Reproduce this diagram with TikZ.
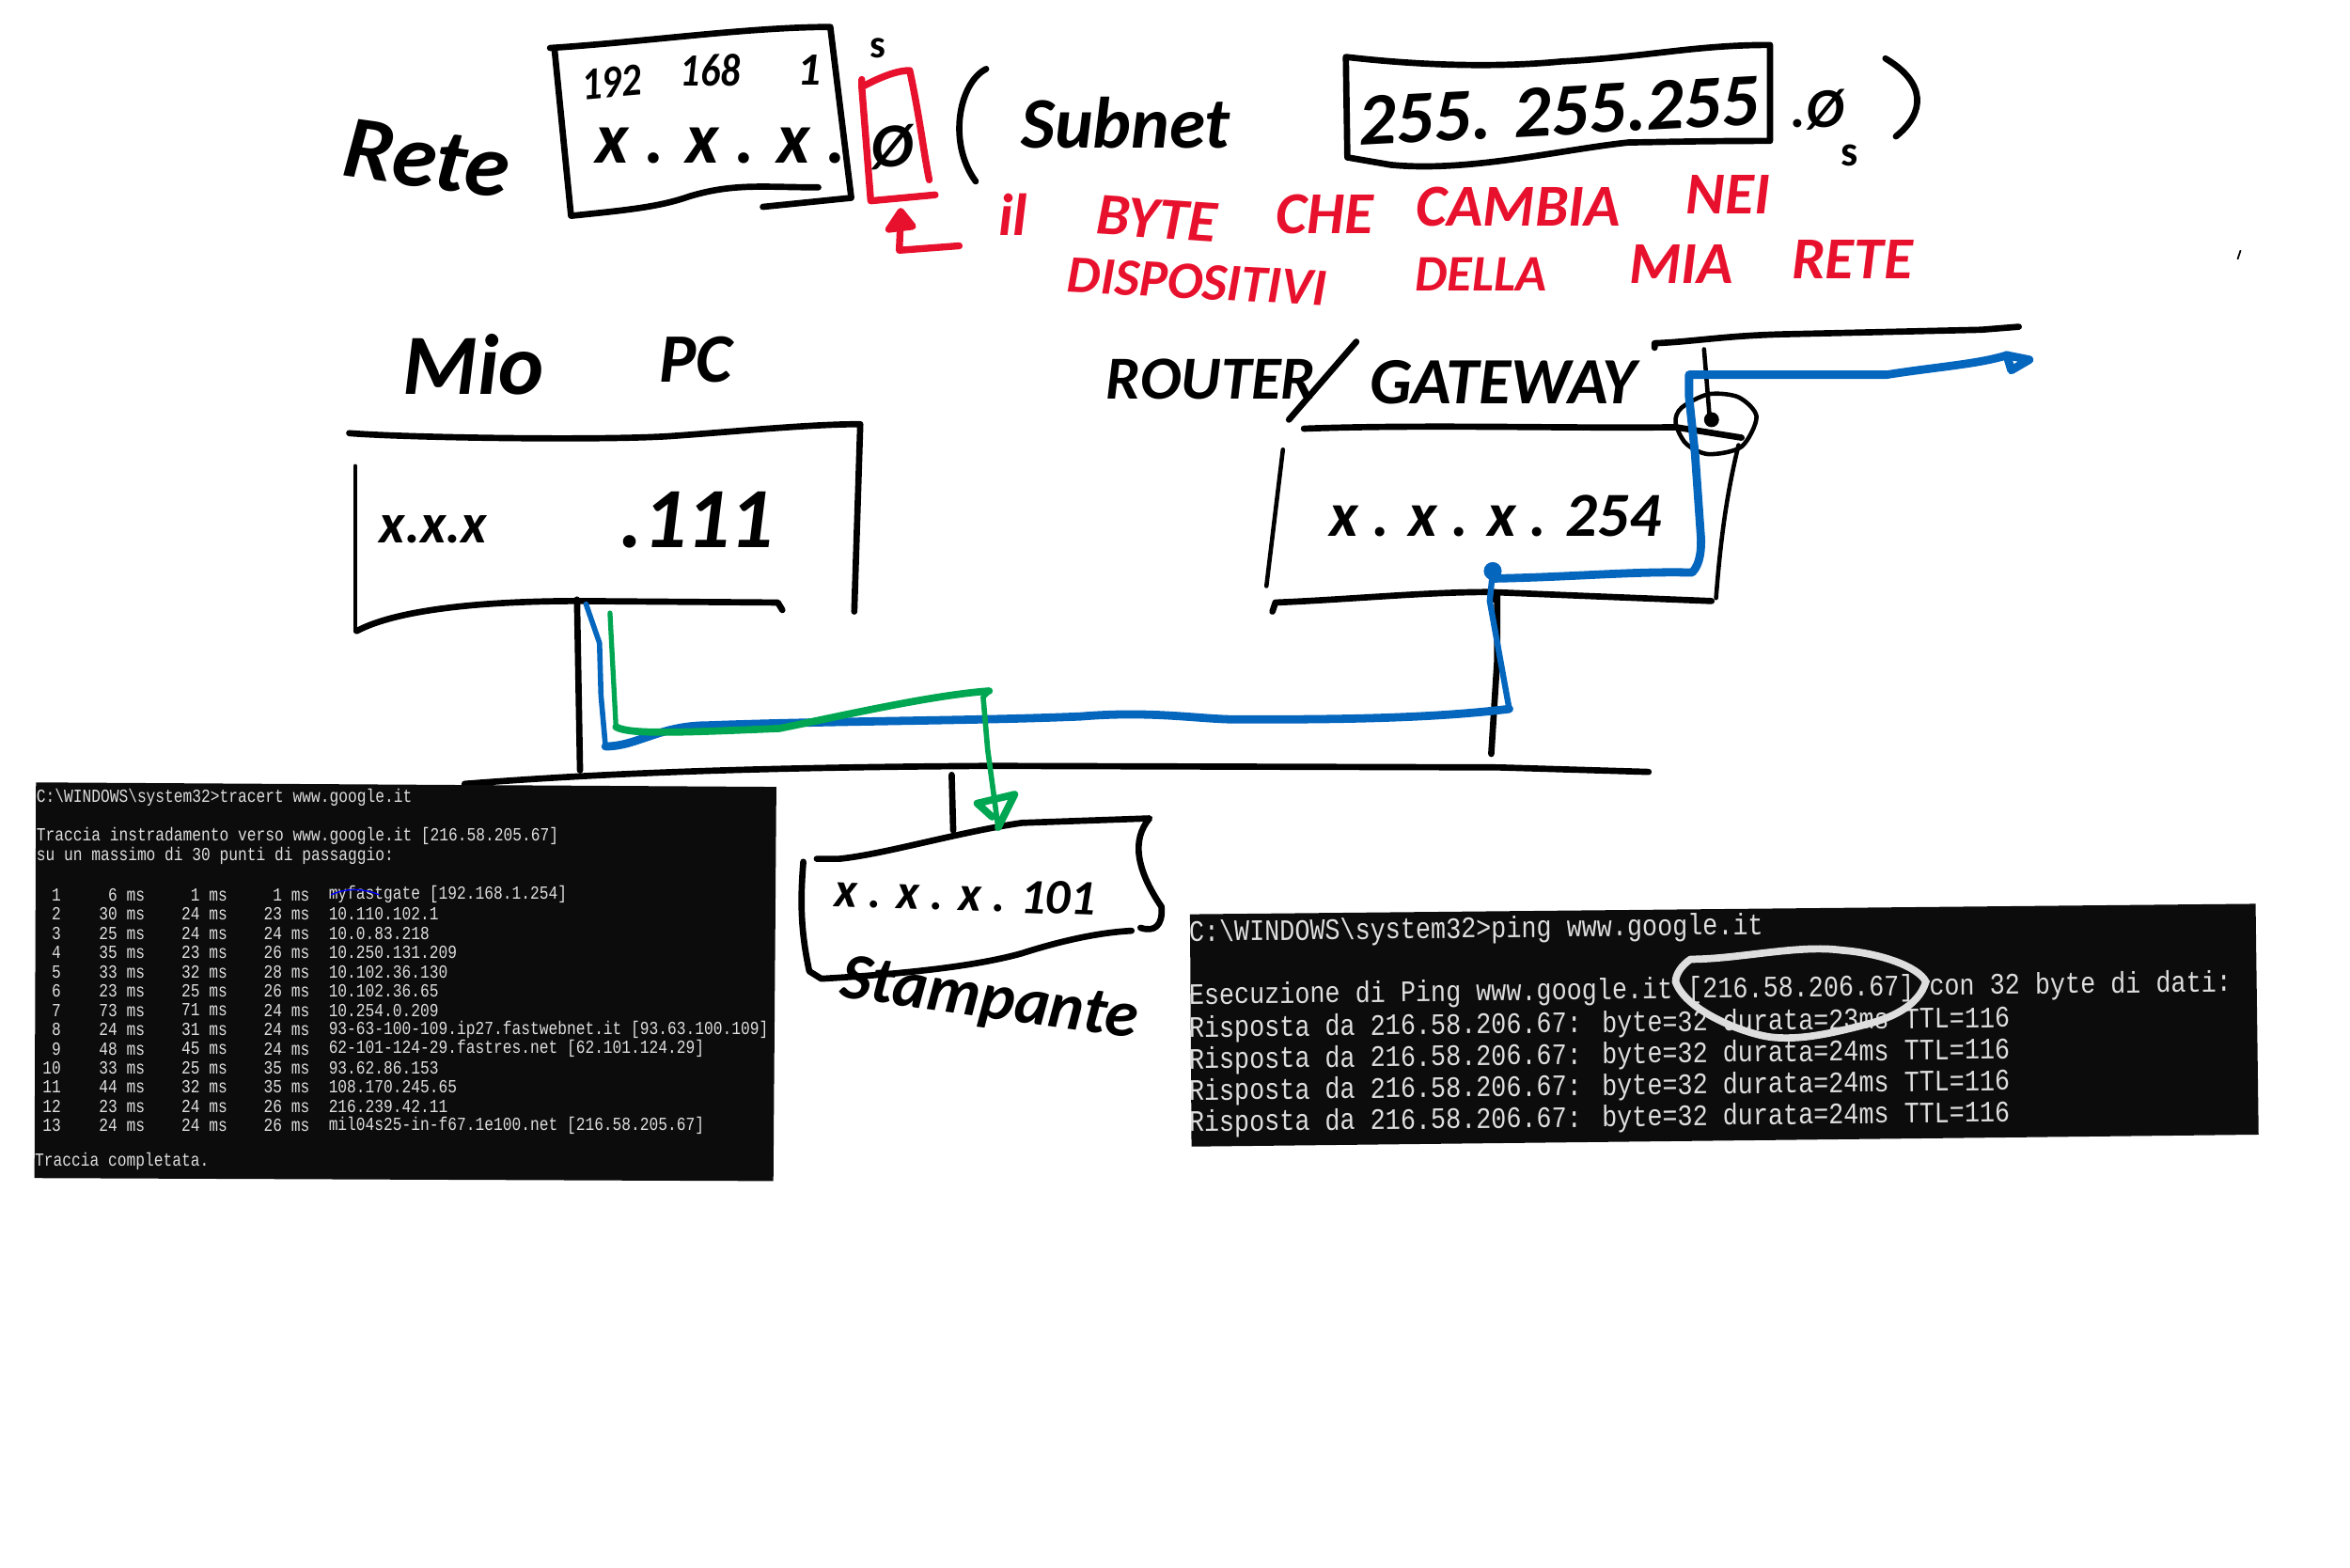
\documentclass[tikz,border=0pt]{standalone}
\usepackage{fontspec}
\setmainfont{Carlito}
\newfontfamily\termfont{Liberation Mono}
\definecolor{inkred}{HTML}{E8112D}
\definecolor{inkblue}{HTML}{0566BE}
\definecolor{inkgreen}{HTML}{00A651}
\definecolor{termbg}{HTML}{0C0C0C}
\definecolor{termtext}{HTML}{DEDEDE}
\newcommand{\handsize}[1]{\itshape\bfseries\fontsize{#1}{#1}\selectfont}
\tikzset{
  ink/.style={line width=1.9pt,line cap=round,line join=round},
  thinink/.style={line width=1.3pt,line cap=round,line join=round},
  redink/.style={line width=2.1pt,line cap=round,line join=round,color=inkred},
  blueink/.style={line width=2.5pt,line cap=round,line join=round,color=inkblue},
  greenink/.style={line width=2.2pt,line cap=round,line join=round,color=inkgreen},
  hand/.style={inner sep=0pt},
  redtext/.style={font=\handsize{18},inner sep=0pt,text=inkred},
  termsmall/.style={font=\termfont\fontsize{5.6}{6}\selectfont,inner sep=0pt,text=termtext,xscale=.825},
  termbig/.style={font=\termfont\fontsize{9}{10}\selectfont,inner sep=0pt,text=termtext,xscale=.847,rotate=.6,anchor=west}
}
\begin{document}
\begin{tikzpicture}[x=0.015944cm,y=-0.015944cm]
\useasboundingbox (0,0) rectangle (1568,1045.6);

\node[hand,font=\handsize{27},rotate=-8] (rete) at (285,106) {Rete};
\draw[ink] (367,32) .. controls (430,28) and (500,18) .. (554,18) -- (568,132) -- (509,138);
\draw[ink] (370,33) -- (381,144) .. controls (420,140) and (440,138) .. (460,131) .. controls (490,122) and (510,125) .. (546,125);
\node[hand,font=\handsize{14},rotate=5,xscale=.85] (n192) at (408,55) {192};
\node[hand,font=\handsize{14},xscale=.85] (n168) at (474,47) {168};
\node[hand,font=\handsize{14}] (n1) at (540,47) {1};
\node[hand,font=\handsize{22}] (netx) at (481,97) {x . x . x .};

\draw[redink] (575,53) -- (575,58) .. controls (590,50) and (600,47) .. (607,47) .. controls (614,80) and (616,100) .. (620,120);
\draw[redink] (575,58) -- (581,134) -- (624,130);
\node[hand,font=\handsize{19}] (hostzero) at (595,98) {Ø};
\node[font=\fontsize{12}{12}\selectfont\bfseries,inner sep=0pt] (sone) at (586,32) {s};
\draw[redink] (640,164) -- (600,167) -- (601,145);
\draw[redink,fill=inkred] (601,141) -- (593,153) -- (609,151) -- cycle;

\draw[ink] (658,46) .. controls (640,55) and (632,95) .. (651,121);
\node[hand,font=\handsize{22}] (subnet) at (751,82) {Subnet};
\draw[ink] (898,38) .. controls (950,44) and (1000,45) .. (1042,41) .. controls (1100,38) and (1130,30) .. (1181,30) -- (1181,94) .. controls (1130,94) and (1100,95) .. (1087,95) .. controls (1040,100) and (980,115) .. (928,110) -- (899,105) -- cycle;
\node[hand,font=\handsize{22.5},rotate=3] (mask) at (1040,74) {255. 255.255};
\node[hand,font=\handsize{17}] (maskzero) at (1213,73) {.Ø};
\node[font=\fontsize{13}{13}\selectfont\bfseries,inner sep=0pt] (stwo) at (1234,104) {s};
\draw[ink] (1258,39) .. controls (1285,55) and (1285,75) .. (1265,91);

\node[redtext] (il) at (676,143) {il};
\node[redtext,rotate=-4] (byte) at (772,146) {BYTE};
\node[redtext] (che) at (884,143) {CHE};
\node[redtext] (cambia) at (1013,138) {CAMBIA};
\node[redtext] (nei) at (1153,130) {NEI};
\node[redtext,font=\handsize{16},rotate=-3] (dispositivi) at (799,188) {DISPOSITIVI};
\node[redtext,font=\handsize{15.5}] (della) at (988,183) {DELLA};
\node[redtext] (mia) at (1122,176) {MIA};
\node[redtext] (rete2) at (1236,173) {RETE};

\node[hand,font=\handsize{26}] (mio) at (316,243) {Mio};
\node[hand,font=\handsize{21}] (pc) at (464,240) {PC};
\draw[ink] (233,289) .. controls (270,292) and (400,294) .. (447,291) .. controls (490,288) and (540,283) .. (574,283) -- (570,408);
\draw[thinink] (237,311) -- (237,421);
\draw[ink] (238,421) .. controls (270,404) and (340,401) .. (386,401) -- (519,402) -- (522,407);
\node[hand,font=\handsize{17}] (pcnet) at (289,353) {x.x.x};
\node[hand,font=\handsize{26}] (pchost) at (465,347) {.111};

\node[hand,font=\handsize{18.5}] (router) at (808,253) {ROUTER};
\draw[ink] (905,228) -- (860,280);
\node[hand,font=\handsize{20}] (gateway) at (1003,255) {GATEWAY};
\draw[ink] (870,286) .. controls (950,283) and (1050,286) .. (1118,285) -- (1162,292);
\draw[thinink] (856,300) -- (845,391);
\draw[ink] (849,408) -- (851,402) .. controls (900,400) and (950,395) .. (994,395) -- (1142,401);
\draw[thinink] (1160,297) .. controls (1152,330) and (1148,360) .. (1145,399);
\node[hand,font=\handsize{19}] (routerhost) at (998,344) {x . x . x . 254};
\draw[ink] (1104,232) -- (1104,229) .. controls (1130,228) and (1150,224) .. (1190,223) -- (1322,220) -- (1347,218);
\draw[thinink] (1137,233) -- (1141,282);
\fill (1142,280) circle (5);
\draw[thinink] plot[smooth cycle] coordinates {(1122,272) (1140,263) (1160,265) (1172,278) (1162,298) (1140,303) (1125,296) (1118,282)};

\draw[ink] (385,400) -- (387,514);
\draw[ink] (999,397) -- (999,440) -- (995,503);
\fill (997,398) circle (4);
\draw[ink] (310,523) .. controls (400,516) and (500,512) .. (661,511) -- (1000,512) -- (1100,515);
\draw[ink] (635,517) -- (636,554);

\draw[ink] (545,573) -- (560,573) .. controls (590,570) and (640,555) .. (682,549) -- (767,546) .. controls (755,560) and (758,580) .. (775,605) .. controls (776,618) and (770,622) .. (761,619);
\draw[ink] (755,621) .. controls (735,622) and (710,627) .. (682,636) .. controls (650,645) and (600,650) .. (548,653) -- (540,648) .. controls (534,620) and (534,600) .. (536,575);
\node[hand,font=\handsize{15},rotate=-2] (printer) at (644,597) {x . x . x . 101};
\node[hand,font=\handsize{20},rotate=-8] (stampante) at (660,668) {Stampante};

\coordinate (pcblue) at (391,403);
\coordinate (pcgreen) at (407,409);
\coordinate (gwport) at (1007,473);
\coordinate (gwin) at (996,381);
\coordinate (uplink) at (1127,250);
\coordinate (outend) at (1354,240);
\draw[blueink,line width=1.6pt] (pcblue) -- (400,429) -- (401,464) -- (404,498);
\draw[blueink] (404,498) .. controls (425,498) and (440,484) .. (472,484) .. controls (550,481) and (650,481) .. (721,478) .. controls (770,474) and (800,480) .. (826,480) .. controls (880,480) and (950,480) .. (gwport);
\draw[blueink,line width=1.8pt] (gwport) -- (994,401) -- (gwin);
\fill[inkblue] (gwin) circle (6);
\draw[blueink] (gwin) -- (996,386) .. controls (1050,385) and (1090,381) .. (1129,382) .. controls (1135,376) and (1135,365) .. (1135,360) -- (1131,303) -- (1127,265) -- (uplink) -- (1259,250) .. controls (1290,245) and (1320,243) .. (1339,237);
\draw[blueink] (1339,237) -- (outend) -- (1342,247) -- cycle;

\draw[greenink,line width=1.5pt] (pcgreen) -- (411,485);
\draw[greenink] (411,485) .. controls (420,490) and (450,489) .. (520,486) .. controls (560,478) and (620,464) .. (660,461);
\draw[greenink,line width=1.6pt] (660,461) -- (656,465) -- (659,500) -- (666,552);
\draw[greenink] (666,552) -- (677,530) -- (652,536) -- (662,545);

\fill[termbg] (24,522) -- (518,525) -- (516,788) -- (23,786) -- cycle;
\node[termsmall,anchor=west] (tcmd) at (24,532) {C:\textbackslash WINDOWS\textbackslash system32>tracert www.google.it};
\node[termsmall,anchor=west] (ttitle) at (24,558) {Traccia instradamento verso www.google.it [216.58.205.67]};
\node[termsmall,anchor=west] (tmax) at (24,571) {su un massimo di 30 punti di passaggio:};
\foreach \n/\a/\b/\c/\h in {
  1/6 ms/1 ms/1 ms/myfastgate [192.168.1.254],
  2/30 ms/24 ms/23 ms/10.110.102.1,
  3/25 ms/24 ms/24 ms/10.0.83.218,
  4/35 ms/23 ms/26 ms/10.250.131.209,
  5/33 ms/32 ms/28 ms/10.102.36.130,
  6/23 ms/25 ms/26 ms/10.102.36.65,
  7/73 ms/71 ms/24 ms/10.254.0.209,
  8/24 ms/31 ms/24 ms/93-63-100-109.ip27.fastwebnet.it [93.63.100.109],
  9/48 ms/45 ms/24 ms/62-101-124-29.fastres.net [62.101.124.29],
  10/33 ms/25 ms/35 ms/93.62.86.153,
  11/44 ms/32 ms/35 ms/108.170.245.65,
  12/23 ms/24 ms/26 ms/216.239.42.11,
  13/24 ms/24 ms/26 ms/mil04s25-in-f67.1e100.net [216.58.205.67]} {
  \pgfmathsetmacro{\rowy}{597+(\n-1)*12.83}
  \node[termsmall,anchor=east] (hop\n) at (41,\rowy) {\n};
  \node[termsmall,anchor=east] (first\n) at (97,\rowy) {\a};
  \node[termsmall,anchor=east] (second\n) at (152,\rowy) {\b};
  \node[termsmall,anchor=east] (third\n) at (207,\rowy) {\c};
  \node[termsmall,anchor=west] (host\n) at (219,\rowy) {\h};
}
\node[termsmall,anchor=west] (tdone) at (23,775) {Traccia completata.};
\draw[color=blue,line width=.4pt] (221,597) .. controls (232,592) and (243,593) .. (253,597);

\fill[termbg] (794,610) -- (1505,603) -- (1507,757) -- (795,765) -- cycle;
\node[termbig] (pcmd) at (793,623) {C:\textbackslash WINDOWS\textbackslash system32>ping www.google.it};
\node[termbig] (ptitle) at (793,665) {Esecuzione di Ping www.google.it [216.58.206.67] con 32 byte di dati:};
\foreach \i/\y/\d in {1/687/23,2/708/24,3/729/24,4/750/24} {
  \node[termbig] (reply\i) at (793,\y) {Risposta da 216.58.206.67: byte=32 durata=\d ms TTL=116};
}
\draw[color=termtext,line width=2.2pt,line cap=round] (1128,640) .. controls (1160,640) and (1200,630) .. (1229,634) .. controls (1255,636) and (1280,645) .. (1285,655) .. controls (1280,672) and (1260,680) .. (1243,684) .. controls (1220,690) and (1200,694) .. (1182,692) .. controls (1165,690) and (1125,675) .. (1118,655) .. controls (1118,650) and (1122,644) .. (1128,640);

\draw[line width=.5pt] (1495,167) -- (1493,173);
\end{tikzpicture}
\end{document}
